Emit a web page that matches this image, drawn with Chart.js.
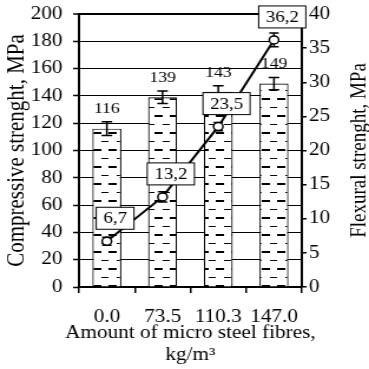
<!DOCTYPE html>
<html>
<head>
<meta charset="utf-8">
<script src="https://cdn.jsdelivr.net/npm/chart.js@4"></script>
<style>
  html, body { margin: 0; padding: 0; background: #fff; overflow: hidden; }
  /* the figure is set a little wide, so the drawing is stretched sideways */
  #wrap { width: 313px; height: 369px; transform: scaleX(1.179); transform-origin: 0 0; }
</style>
</head>
<body>
<div id="wrap"><canvas id="myChart" width="313" height="369"></canvas></div>
<script>
var fibres = ['0.0', '73.5', '110.3', '147.0'];
var compressive = [116, 139, 143, 149];
var compressiveErr = [5, 4.5, 4.5, 4.5];
var flexural = [6.7, 13.2, 23.5, 36.2];
var flexuralErr = [0.6, 0.75, 0.6, 1.0];
var flexuralLabels = ['6,7', '13,2', '23,5', '36,2'];

var serif = 'Liberation Serif';

// white fill with rows of short dashes
function dashPattern() {
    var c = document.createElement('canvas');
    c.width = 13;
    c.height = 17;
    var g = c.getContext('2d');
    g.fillStyle = '#fff';
    g.fillRect(0, 0, 13, 17);
    g.fillStyle = '#000';
    g.fillRect(1, 13, 7, 2);
    g.fillRect(8, 5, 5, 1);
    g.fillRect(0, 5, 1, 1);
    return document.getElementById('myChart').getContext('2d').createPattern(c, 'repeat');
}

function drawErrors(chart, index, values, errs, axis, half) {
    var ctx = chart.ctx;
    var meta = chart.getDatasetMeta(index);
    var scale = chart.scales[axis];
    ctx.save();
    ctx.strokeStyle = '#000';
    ctx.lineWidth = 1.5;
    for (var i = 0; i < values.length; i++) {
        var x = meta.data[i].x;
        var top = scale.getPixelForValue(values[i] + errs[i]);
        var bot = scale.getPixelForValue(values[i] - errs[i]);
        ctx.beginPath();
        ctx.moveTo(x, top); ctx.lineTo(x, bot);
        ctx.moveTo(x - half, top); ctx.lineTo(x + half, top);
        ctx.moveTo(x - half, bot); ctx.lineTo(x + half, bot);
        ctx.stroke();
    }
    ctx.restore();
}

// keep the plot top where it is, the tick labels may overhang
function noOverhang(scale, width) {
    scale.width = width;
    scale.paddingTop = 0;
    scale.paddingBottom = 0;
}

var extras = {
    id: 'extras',
    beforeDatasetDraw: function (chart, args) {
        if (args.index === 1) {
            drawErrors(chart, 1, flexural, flexuralErr, 'y1', 4);
        }
    },
    afterDatasetDraw: function (chart, args) {
        if (args.index !== 0) return;
        drawErrors(chart, 0, compressive, compressiveErr, 'y', 4.5);
        var ctx = chart.ctx;
        var meta = chart.getDatasetMeta(0);
        ctx.save();
        ctx.fillStyle = '#000';
        ctx.font = '15px ' + serif;
        ctx.textAlign = 'center';
        ctx.textBaseline = 'middle';
        for (var i = 0; i < compressive.length; i++) {
            var y = chart.scales.y.getPixelForValue(compressive[i] + compressiveErr[i]);
            ctx.fillText(String(compressive[i]), meta.data[i].x, y - 13);
        }
        ctx.restore();
    },
    afterDatasetsDraw: function (chart) {
        var ctx = chart.ctx;
        var meta = chart.getDatasetMeta(1);
        var area = chart.chartArea;
        ctx.save();
        ctx.font = '16px ' + serif;
        ctx.textAlign = 'center';
        ctx.textBaseline = 'middle';
        for (var i = 0; i < flexural.length; i++) {
            var p = meta.data[i];
            var cx = p.x + 7;
            var cy = p.y - 23;
            var w = ctx.measureText(flexuralLabels[i]).width + 12;
            var h = 22;
            ctx.fillStyle = '#fff';
            ctx.fillRect(cx - w / 2, cy - h / 2, w, h);
            ctx.strokeStyle = '#000';
            ctx.lineWidth = 1;
            ctx.strokeRect(cx - w / 2, cy - h / 2, w, h);
            ctx.fillStyle = '#000';
            ctx.fillText(flexuralLabels[i], cx, cy + 1);
        }

        // x axis title, two lines wider than the plot
        ctx.font = '18px ' + serif;
        ctx.textBaseline = 'alphabetic';
        var mid = (area.left + area.right) / 2;
        ctx.fillText('Amount of micro steel fibres,', mid, 338);
        ctx.fillText('kg/m\u00b3', mid, 360);

        // right axis title, reading upwards like the left one
        ctx.translate(310, (area.top + area.bottom) / 2);
        ctx.rotate(-Math.PI / 2);
        ctx.font = '19px ' + serif;
        ctx.fillText('Flexural strenght, MPa', 0, 0);
        ctx.restore();
    }
};

var ctx = document.getElementById('myChart');
var myChart = new Chart(ctx, {
    type: 'bar',
    data: {
        labels: fibres,
        datasets: [{
            type: 'bar',
            data: compressive,
            yAxisID: 'y',
            order: 1,
            backgroundColor: dashPattern(),
            borderColor: '#000',
            borderWidth: 1.2,
            barPercentage: 0.52,
            categoryPercentage: 1
        }, {
            type: 'line',
            data: flexural,
            yAxisID: 'y1',
            order: 0,
            borderColor: '#000',
            borderWidth: 2,
            tension: 0,
            pointRadius: 4,
            pointBackgroundColor: '#fff',
            pointBorderColor: '#000',
            pointBorderWidth: 1.5
        }]
    },
    options: {
        responsive: false,
        animation: false,
        events: [],
        layout: { padding: { left: 0, right: 0, top: 14, bottom: 0 } },
        plugins: {
            legend: { display: false },
            tooltip: { enabled: false }
        },
        scales: {
            x: {
                offset: true,
                grid: {
                    offset: true,
                    drawOnChartArea: false,
                    color: '#000',
                    lineWidth: 1.5,
                    tickLength: 6
                },
                border: { color: '#000', width: 2 },
                ticks: { color: '#000', font: { family: serif, size: 18 }, padding: 13, maxRotation: 0 },
                afterFit: function (scale) { scale.height = 82; }
            },
            y: {
                position: 'left',
                min: 0,
                max: 200,
                ticks: { stepSize: 20, color: '#000', font: { family: serif, size: 18 }, padding: 9 },
                grid: {
                    color: '#000',
                    lineWidth: function (c) { return c.tick && c.tick.value === 200 ? 2 : 1; },
                    tickColor: '#000',
                    tickWidth: 1.5,
                    tickLength: 5
                },
                border: { color: '#000', width: 2 },
                title: {
                    display: true,
                    text: 'Compressive strenght, MPa',
                    color: '#000',
                    font: { family: serif, size: 21, lineHeight: 1 },
                    padding: { top: 4, bottom: 0 }
                },
                afterFit: function (scale) { noOverhang(scale, 67); }
            },
            y1: {
                position: 'right',
                min: 0,
                max: 40,
                ticks: { stepSize: 5, color: '#000', font: { family: serif, size: 18 }, padding: 2 },
                grid: {
                    drawOnChartArea: false,
                    color: '#000',
                    lineWidth: 1.5,
                    tickLength: 4
                },
                border: { color: '#000', width: 2 },
                afterFit: function (scale) { noOverhang(scale, 57); }
            }
        }
    },
    plugins: [extras]
});
</script>
</body>
</html>
